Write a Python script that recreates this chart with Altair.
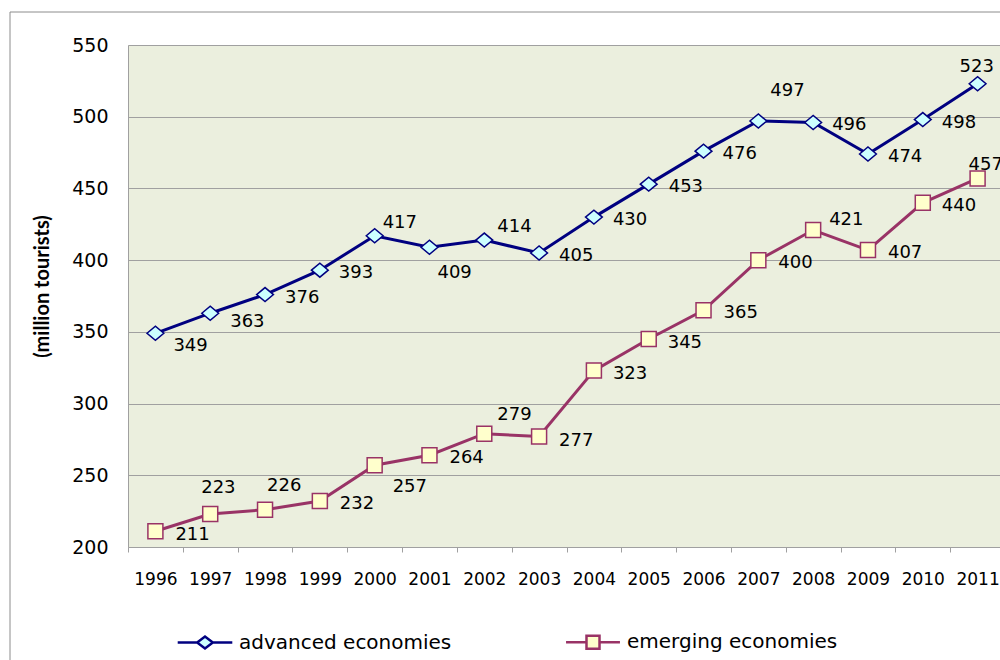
import altair as alt
import pandas as pd

# ---- data ----
years = list(range(1996, 2012))
advanced = [349, 363, 376, 393, 417, 409, 414, 405, 430, 453, 476, 497, 496, 474, 498, 523]
emerging = [211, 223, 226, 232, 257, 264, 279, 277, 323, 345, 365, 400, 421, 407, 440, 457]
series_names = ["advanced economies", "emerging economies"]
y_ticks = [200, 250, 300, 350, 400, 450, 500, 550]

# ---- label placement (pixel offsets, style only) ----
adv_dx = [18, 20, 20, 19, 8, 8, 13, 20, 19, 20, 19, 12, 19, 20, 19, -18]
adv_dy = [13, 9, 3, 3, -13, 26, -13, 3, 3, 3, 3, -30, 3, 3, 3, -17]
emg_dx = [20, -9, 2, 20, 18, 20, 13, 20, 19, 19, 20, 20, 16, 20, 19, -9]
emg_dy = [4, -26, -24, 3, 22, 3, -19, 4, 3, 4, 3, 3, -10, 3, 3, -13]

NAVY = "#000080"
PLUM = "#993366"
CYAN = "#CCFFFF"
CREAM = "#FFFFCC"
GRID = "#A0A0A0"
FONT = "DejaVu Sans"

adv_df = pd.DataFrame({"year": years, "value": advanced})
emg_df = pd.DataFrame({"year": years, "value": emerging})

def xenc():
    return alt.X(
        "year:O",
        scale=alt.Scale(type="band", paddingInner=0, paddingOuter=0, range=[0, 877]),
        bandPosition=0.5,
        axis=alt.Axis(
            title=None, grid=False, tickBand="extent", ticks=True, tickSize=5,
            tickColor=GRID, domainColor=GRID, labelAngle=0, labelFontSize=17,
            labelFont=FONT, labelColor="black", labelPadding=19,
        ),
    )

def yenc():
    return alt.Y(
        "value:Q",
        scale=alt.Scale(domain=[200, 550], nice=False, zero=False),
        axis=alt.Axis(
            values=y_ticks, grid=True, gridColor=GRID, ticks=False,
            domainColor=GRID, labelFontSize=19, labelFont=FONT, labelColor="black",
            labelPadding=20, title="(million tourists)", titleFont="Lato",
            titleFontSize=20, titleFontWeight="bold", titleColor="black",
            titleAngle=270, titleX=-86, titleY=241, titleAlign="center",
            titleBaseline="middle",
        ),
    )

frame = alt.Chart(pd.DataFrame({"a": [0]})).mark_rect(
    fillOpacity=0, stroke="#8C8C8C", strokeWidth=1
).encode(x=alt.value(-118), y=alt.value(-33), x2=alt.value(1100), y2=alt.value(800))

adv_line = alt.Chart(adv_df).mark_line(color=NAVY, strokeWidth=3).encode(x=xenc(), y=yenc())
emg_line = alt.Chart(emg_df).mark_line(color=PLUM, strokeWidth=3).encode(x=xenc(), y=yenc())

adv_pts = alt.Chart(adv_df).mark_point(
    shape="M-1.2,0L0,-1L1.2,0L0,1Z", size=196, filled=True, fill=CYAN,
    stroke=NAVY, strokeWidth=1.5, opacity=1
).encode(x=xenc(), y=yenc())
emg_pts = alt.Chart(emg_df).mark_point(
    shape="square", size=225, filled=True, fill=CREAM,
    stroke=PLUM, strokeWidth=1.5, opacity=1
).encode(x=xenc(), y=yenc())

def label_layers(vals, dxs, dys):
    layers = []
    combos = sorted(set(zip(dxs, dys)))
    for dx, dy in combos:
        idx = [i for i in range(len(vals)) if dxs[i] == dx and dys[i] == dy]
        sub = pd.DataFrame({"year": [years[i] for i in idx], "value": [vals[i] for i in idx]})
        layers.append(
            alt.Chart(sub).mark_text(
                align="left", baseline="middle", dx=dx, dy=dy, fontSize=18,
                font=FONT, color="black"
            ).encode(x=xenc(), y=yenc(), text=alt.Text("value:Q"))
        )
    return layers

labels = label_layers(advanced, adv_dx, adv_dy) + label_layers(emerging, emg_dx, emg_dy)

legend_shapes = [
    "M-3.9,0H-1.12M-1.12,0L0,-0.85L1.12,0L0,0.85ZM1.12,0H3.9",
    "M-3.85,0H-0.93M-0.93,-0.93H0.93V0.93H-0.93ZM0.93,0H3.85",
]
leg = alt.Legend(
    title=None, orient="none", legendX=67, legendY=587, direction="horizontal",
    symbolSize=196, symbolStrokeWidth=2.5, symbolOpacity=1, labelFontSize=20,
    labelFont=FONT, labelColor="black", labelLimit=400, labelOffset=24,
    columnPadding=109, padding=0,
)
legend_layer = alt.Chart(pd.DataFrame({"series": series_names})).transform_filter(
    "false"
).mark_point(filled=True, opacity=1, size=196).encode(
    x=xenc(),
    shape=alt.Shape("series:N", scale=alt.Scale(domain=series_names, range=legend_shapes), legend=leg),
    fill=alt.Fill("series:N", scale=alt.Scale(domain=series_names, range=[CYAN, CREAM]), legend=leg),
    stroke=alt.Stroke("series:N", scale=alt.Scale(domain=series_names, range=[NAVY, PLUM]), legend=leg),
)

chart = alt.layer(
    frame, adv_line, emg_line, adv_pts, emg_pts, *labels, legend_layer
).properties(
    width=872, height=502,
    padding={"left": 128, "top": 45, "right": 0, "bottom": 113},
    autosize=alt.AutoSizeParams(type="none"),
    background="white",
).configure_view(
    fill="#EBEFDE", stroke=None
)

chart.save("out.html", embed_options={"renderer": "svg", "actions": False})
